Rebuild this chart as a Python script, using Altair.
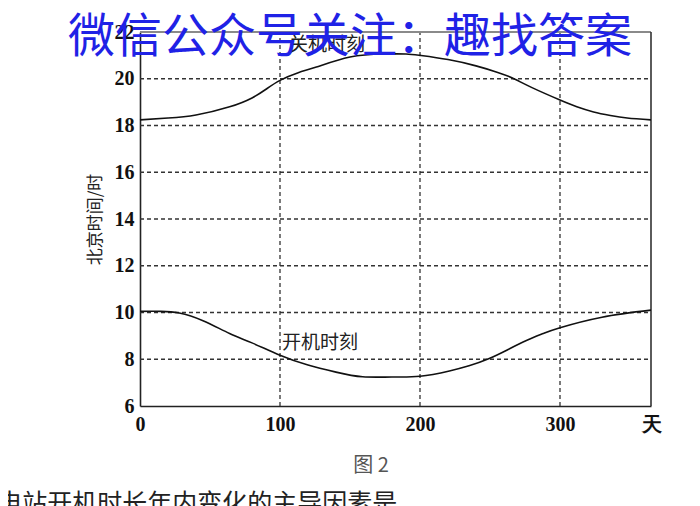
import altair as alt
import pandas as pd

# ---- data ----
sunset_days = [0, 20, 40, 64, 80, 90, 100, 113, 126, 150, 174, 190, 200, 220, 240, 255, 266, 280, 300, 312, 324, 336, 348, 365]
sunset_hours = [18.24, 18.32, 18.45, 18.8, 19.18, 19.55, 19.93, 20.26, 20.5, 20.93, 21.06, 21.06, 21.0, 20.82, 20.55, 20.28, 20.03, 19.62, 19.09, 18.8, 18.58, 18.43, 18.32, 18.24]

sunrise_days = [0, 15, 28, 45, 64, 80, 100, 120, 140, 159, 180, 200, 221, 235, 249, 263, 276, 288, 300, 330, 365]
sunrise_hours = [10.05, 10.05, 9.98, 9.65, 9.1, 8.7, 8.17, 7.75, 7.45, 7.25, 7.24, 7.27, 7.5, 7.72, 8.02, 8.42, 8.8, 9.1, 9.35, 9.8, 10.1]

x_ticks = [0, 100, 200, 300, 365]
y_ticks = [6, 8, 10, 12, 14, 16, 18, 20, 22]
grid_y = [8, 10, 12, 14, 16, 18, 20]
grid_x = [100, 200, 300]

sunset_label = "关机时刻"
sunset_label_pos = (133.6, 21.44)
sunrise_label = "开机时刻"
sunrise_label_pos = (101.4, 8.70)

y_title = "北京时间/时"
x_end_label = "天"
caption = "图 2"
bottom_line = "电站开机时长年内变化的主导因素是"
watermark = "微信公众号关注：趣找答案"

# ---- tables ----
curves = pd.concat([
    pd.DataFrame({"day": sunset_days, "hour": sunset_hours, "series": "关机"}),
    pd.DataFrame({"day": sunrise_days, "hour": sunrise_hours, "series": "开机"}),
])
hgrid_df = pd.DataFrame({"y": grid_y, "x0": 0, "x1": 365})
vgrid_df = pd.DataFrame({"x": grid_x, "y0": 6, "y1": 22})
top_df = pd.DataFrame({"y": [22], "x0": [0], "x1": [365]})
right_df = pd.DataFrame({"x": [365], "y0": [6], "y1": [22]})

xs = alt.Scale(domain=[0, 365], nice=False, zero=False)
ys = alt.Scale(domain=[6, 22], nice=False, zero=False)

X_AX = alt.Axis(
    values=x_ticks, title=None, grid=False, ticks=False,
    labelExpr=f"datum.value == 365 ? '{x_end_label}' : datum.label",
    labelFont="Liberation Serif", labelFontWeight="bold", labelFontSize=20,
    labelColor="#111", labelPadding=8, labelOverlap=False, labelFlush=False,
    labelBound=False, domainColor="#222", domainWidth=1.6)
Y_AX = alt.Axis(
    values=y_ticks, title=y_title, grid=False, ticks=False, format="d",
    labelFont="Liberation Serif", labelFontWeight="bold", labelFontSize=20,
    labelColor="#111", labelPadding=6, labelOverlap=False, labelFlush=False,
    labelBound=False, domainColor="#222", domainWidth=1.6,
    titleFont="Noto Sans CJK SC", titleFontSize=17, titleFontWeight="normal",
    titleColor="#222", titlePadding=10)

W, H = 511, 374


def text_layer(x, y, t, **kw):
    return alt.Chart(pd.DataFrame({"x": [x], "y": [y], "t": [t]})).mark_text(**kw).encode(
        x=alt.X("x:Q", scale=xs, axis=X_AX), y=alt.Y("y:Q", scale=ys, axis=Y_AX), text="t:N")


def hrule(df, **kw):
    return alt.Chart(df).mark_rule(**kw).encode(
        y=alt.Y("y:Q", scale=ys, axis=Y_AX),
        x=alt.X("x0:Q", scale=xs, axis=X_AX), x2="x1:Q")


def vrule(df, **kw):
    return alt.Chart(df).mark_rule(**kw).encode(
        x=alt.X("x:Q", scale=xs, axis=X_AX),
        y=alt.Y("y0:Q", scale=ys, axis=Y_AX), y2="y1:Q")


lines = alt.Chart(curves).mark_line(color="#111", strokeWidth=1.6, interpolate="natural").encode(
    x=alt.X("day:Q", scale=xs, axis=X_AX),
    y=alt.Y("hour:Q", scale=ys, axis=Y_AX),
    detail="series:N",
)

hgrid = hrule(hgrid_df, color="#333", strokeWidth=1.3, strokeDash=[4, 3])
vgrid = vrule(vgrid_df, color="#333", strokeWidth=1.3, strokeDash=[4, 3])
top_border = hrule(top_df, color="#8a8a8a", strokeWidth=2)
right_border = vrule(right_df, color="#333", strokeWidth=1.6)

lab1 = text_layer(sunset_label_pos[0], sunset_label_pos[1], sunset_label,
                  font="Noto Sans CJK SC", fontSize=19, color="#222", baseline="middle", align="center")
lab2 = text_layer(sunrise_label_pos[0], sunrise_label_pos[1], sunrise_label,
                  font="Noto Sans CJK SC", fontSize=19, color="#222", baseline="middle", align="left")
cap = text_layer(165, 3.43, caption, font="Noto Sans CJK SC", fontSize=20,
                 color="#555", baseline="middle", align="center")
bottom = text_layer(-102, 1.47, bottom_line, font="Noto Sans CJK SC", fontSize=25,
                    color="#222", baseline="alphabetic", align="left")
wm = text_layer(150, 21.75, watermark, font="Noto Sans CJK SC", fontSize=47, fontWeight="normal",
                color="#1f22e6", baseline="middle", align="center")

chart = alt.layer(hgrid, vgrid, top_border, right_border, lines, lab1, lab2, cap, bottom, wm).properties(
    width=W, height=H,
    autosize=alt.AutoSizeParams(type="none"),
    padding={"left": 132, "top": 24, "right": 41, "bottom": 100},
    background="white",
).configure_view(stroke=None)

chart.save("out.html", embed_options={"renderer": "svg", "actions": False})
